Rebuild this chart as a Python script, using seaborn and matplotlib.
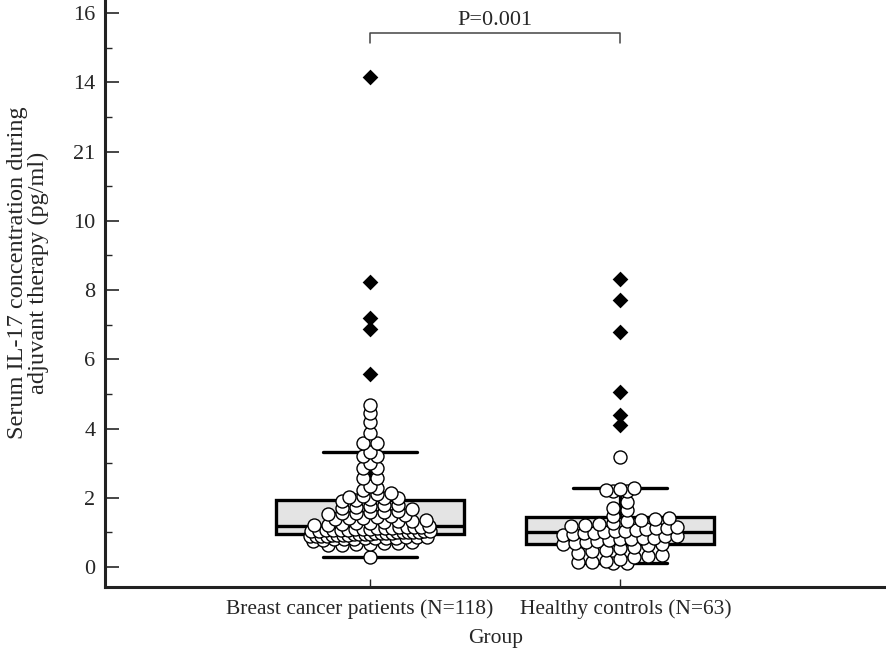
import numpy as np
import pandas as pd
import matplotlib
matplotlib.use("Agg")
import matplotlib.pyplot as plt
import matplotlib.transforms as mtransforms
import seaborn as sns

# groups on the x axis
groups = ["Breast cancer patients (N=118)", "Healthy controls (N=63)"]

# breast cancer patients: values drawn as open circles
breast_dots = [0.29,
               0.62, 0.64, 0.65, 0.66, 0.68, 0.70, 0.72, 0.74,
               0.78, 0.80, 0.81, 0.82, 0.83, 0.84, 0.84, 0.85, 0.86, 0.86,
               0.87, 0.88, 0.88, 0.89, 0.90, 0.91, 0.92, 0.92, 0.93, 0.94,
               0.95, 0.96, 0.96, 0.97, 0.98, 0.98, 0.99, 1.00, 1.00, 1.01,
               1.02, 1.02, 1.03, 1.04, 1.05, 1.05, 1.06, 1.07, 1.08, 1.08,
               1.09, 1.10, 1.11, 1.12, 1.12, 1.13, 1.14, 1.15, 1.15, 1.16,
               1.18, 1.20, 1.22, 1.25, 1.27, 1.28, 1.30, 1.32, 1.33, 1.35,
               1.38, 1.40, 1.42, 1.45, 1.48, 1.50, 1.52, 1.55, 1.56, 1.58,
               1.60, 1.63, 1.66, 1.70, 1.72, 1.75, 1.78, 1.80, 1.90, 1.94,
               1.96, 1.98, 2.00, 2.02, 2.05, 2.10, 2.15, 2.22, 2.28, 2.35,
               2.57, 2.57, 2.86, 2.86, 3.00, 3.20, 3.20, 3.32,
               3.58, 3.58, 3.87, 4.19, 4.45, 4.68]
# breast cancer patients: far out values (diamonds)
breast_far = [5.57, 6.87, 7.19, 8.23, 14.15]

# healthy controls
healthy_dots = [0.10, 0.12, 0.14, 0.15, 0.18, 0.22, 0.28, 0.32, 0.35, 0.40,
                0.45, 0.50, 0.55, 0.58, 0.62, 0.65,
                0.67, 0.70, 0.72, 0.75, 0.78, 0.80, 0.82, 0.84, 0.85, 0.88,
                0.90, 0.92, 0.95, 0.97, 0.99, 1.01,
                1.03, 1.05, 1.08, 1.10, 1.12, 1.13, 1.15, 1.18, 1.20, 1.24,
                1.28, 1.32, 1.35, 1.38, 1.42, 1.46,
                1.65, 1.70, 1.88, 2.18, 2.20, 2.22, 2.25, 2.28, 3.18]
healthy_far = [4.10, 4.39, 5.05, 6.79, 7.71, 8.32]

ytick_pos = [0, 2, 4, 6, 8, 10, 12, 14, 16]
ytick_labels = ["0", "2", "4", "6", "8", "10", "21", "14", "16"]
p_text = "P=0.001"


def dot_offsets(vals, bin_w=0.16, step=0.056, max_w=0.5):
    # dot-plot layout: values in the same band are spread side by side
    vals = np.asarray(vals, dtype=float)
    bins = np.round(vals / bin_w).astype(int)
    off = np.zeros(len(vals))
    for b in np.unique(bins):
        idx = np.where(bins == b)[0]
        idx = idx[np.argsort(vals[idx], kind="stable")]
        n = len(idx)
        s = min(step, max_w / n)
        off[idx] = (np.arange(n) - (n - 1) / 2) * s
    return off


all_df = pd.DataFrame({
    "group": [groups[0]] * (len(breast_dots) + len(breast_far))
             + [groups[1]] * (len(healthy_dots) + len(healthy_far)),
    "value": breast_dots + breast_far + healthy_dots + healthy_far,
})
far_df = pd.DataFrame({
    "group": [groups[0]] * len(breast_far) + [groups[1]] * len(healthy_far),
    "value": breast_far + healthy_far,
})
dot_x = np.concatenate([0 + dot_offsets(breast_dots, bin_w=0.16),
                        1 + dot_offsets(healthy_dots, bin_w=0.26)])
dot_y = np.array(breast_dots + healthy_dots)

sns.set_style("ticks")
plt.rcParams["font.family"] = ["Liberation Serif", "DejaVu Serif"]

fig = plt.figure(figsize=(8.86, 6.54), dpi=100)
ax = fig.add_axes([0.1185, 0.1024, 0.8815, 0.8976])

# box plot
sns.boxplot(data=all_df, x="group", y="value", order=groups, width=0.75,
            whis=1.5, showfliers=False, color="#e4e4e4", saturation=1,
            linecolor="black", linewidth=2.4, ax=ax)

# all observations as open circles
sns.scatterplot(x=dot_x, y=dot_y, marker="o", s=88, color="white",
                edgecolor="black", linewidth=1.0, zorder=4, ax=ax)

# far out values as diamonds
sns.stripplot(data=far_df, x="group", y="value", order=groups, jitter=False,
              marker="D", size=8, color="black", zorder=5, ax=ax)

# significance bracket
ax.plot([0, 0, 1, 1], [15.13, 15.42, 15.42, 15.13], color="#444444", lw=1.1)
ax.text(0.5, 15.52, p_text, ha="center", va="bottom", fontsize=16)

ax.set_xlim(-1.06, 2.064)
ax.set_ylim(-0.58, 16.38)
ax.set_yticks(ytick_pos, ytick_labels)
ax.set_yticks(np.arange(1, 16, 2), minor=True)
ax.set_xticks([0, 1], groups)
ax.tick_params(axis="y", which="major", direction="in", length=10, width=1.2,
               labelsize=16, pad=7)
ax.tick_params(axis="y", which="minor", direction="in", length=5, width=1.0)
ax.tick_params(axis="x", direction="in", length=6, width=1.0, labelsize=15.5, pad=9)

# small nudge so the two group labels sit apart, as in the original
for lab, dx in zip(ax.get_xticklabels(), [-10, 6]):
    lab.set_transform(lab.get_transform()
                      + mtransforms.ScaledTranslation(dx / 100, 0, fig.dpi_scale_trans))

ax.set_xlabel("Group", fontsize=15.5, labelpad=7)
ax.set_ylabel("Serum IL-17 concentration during\nadjuvant therapy (pg/ml)",
              fontsize=17.5, linespacing=1.0)
ax.yaxis.set_label_coords(-0.072, 0.535)

for side in ["top", "right"]:
    ax.spines[side].set_visible(False)
for side in ["left", "bottom"]:
    ax.spines[side].set_linewidth(2.2)
    ax.spines[side].set_color("#222222")

fig.savefig("out.png", dpi=100)
